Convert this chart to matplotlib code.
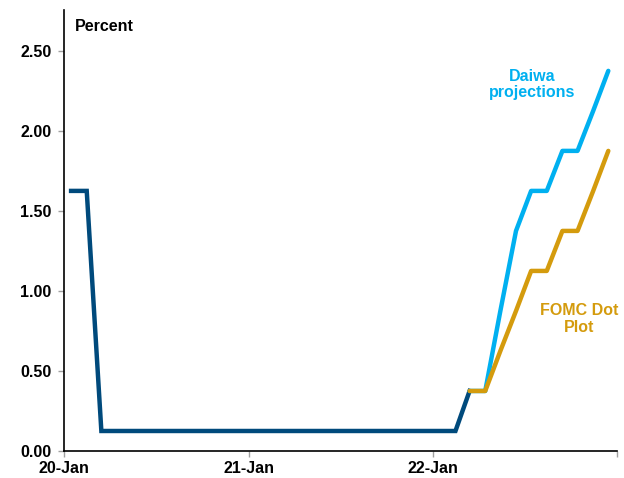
import numpy as np
import pandas as pd
import matplotlib
matplotlib.use("Agg")
import matplotlib.pyplot as plt

# fed funds midpoint, monthly (Jan 2020 - Mar 2022)
actual_months = pd.date_range("2020-01-01", "2022-03-01", freq="MS") + pd.Timedelta(days=14)
actual_rate = [1.625, 1.625] + [0.125] * 24 + [0.375]

# projections, Mar 2022 - Dec 2022
proj_months = pd.date_range("2022-03-01", "2022-12-01", freq="MS") + pd.Timedelta(days=14)
daiwa_rate = [0.375, 0.375, 0.875, 1.375, 1.625, 1.625, 1.875, 1.875, 2.125, 2.375]
fomc_rate = [0.375, 0.375, 0.625, 0.875, 1.125, 1.125, 1.375, 1.375, 1.625, 1.875]

y_ticks = [0.0, 0.5, 1.0, 1.5, 2.0, 2.5]

NAVY = "#004a7c"
SKY = "#00b0f0"
GOLD = "#d49b0d"

plt.rcParams['font.family'] = ['Liberation Sans', 'DejaVu Sans']

fig = plt.figure(figsize=(6.24, 4.78), dpi=100)
ax = fig.add_axes([0.1026, 0.0565, 0.886, 0.9225])

ax.plot(actual_months, actual_rate, color=NAVY, lw=3.2, solid_joinstyle='miter')
ax.plot(proj_months, daiwa_rate, color=SKY, lw=3.2, solid_capstyle='round')
ax.plot(proj_months, fomc_rate, color=GOLD, lw=3.2, solid_capstyle='round')

ax.set_xlim(pd.Timestamp("2020-01-01"), pd.Timestamp("2023-01-01"))
ax.set_ylim(0, 2.755)

ax.set_xticks(pd.to_datetime(["2020-01-01", "2021-01-01", "2022-01-01", "2023-01-01"]))
ax.set_xticklabels(["20-Jan", "21-Jan", "22-Jan", ""])
ax.set_yticks(y_ticks)
ax.set_yticklabels([f"{v:.2f}" for v in y_ticks])

for s in ["top", "right"]:
    ax.spines[s].set_visible(False)
for s in ["left", "bottom"]:
    ax.spines[s].set_color("black")
    ax.spines[s].set_linewidth(1.2)

ax.tick_params(axis="both", direction="out", length=4, width=1, color="#a0a0a0",
               labelsize=11.5)
ax.tick_params(axis="y", pad=5)
ax.tick_params(axis="x", pad=3)
for lab in ax.get_xticklabels() + ax.get_yticklabels():
    lab.set_fontweight("bold")

ax.text(pd.Timestamp("2020-01-22"), 2.65, "Percent", fontsize=11.5, fontweight="bold",
        va="center", ha="left")
ax.text(pd.Timestamp("2022-07-17"), 2.29, "Daiwa\nprojections", color=SKY, fontsize=11.5,
        fontweight="bold", ha="center", va="center", linespacing=1.15)
ax.text(pd.Timestamp("2022-10-19"), 0.825, "FOMC Dot\nPlot", color=GOLD, fontsize=11.5,
        fontweight="bold", ha="center", va="center", linespacing=1.15)

fig.savefig("out.png", dpi=100)
